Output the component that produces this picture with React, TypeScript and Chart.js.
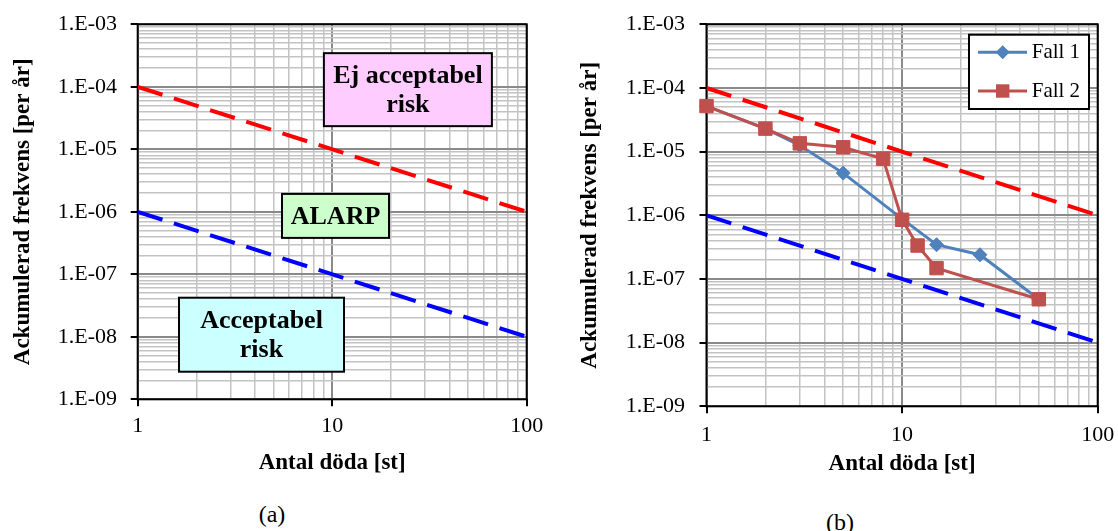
import React, { useEffect, useRef } from "react";
import { Chart, registerables } from "chart.js";

Chart.register(...registerables);

const SERIF = "'Liberation Serif', 'Times New Roman', Times, serif";

// ---- axis ticks ----
const xMajorValues = [1, 10, 100];
const xTickLabels = ["1", "10", "100"];
const yMajorValues = [1e-9, 1e-8, 1e-7, 1e-6, 1e-5, 1e-4, 1e-3];
const yTickLabels = ["1.E-09", "1.E-08", "1.E-07", "1.E-06", "1.E-05", "1.E-04", "1.E-03"];

const xAxisTitle = "Antal döda [st]";
const yAxisTitle = "Ackumulerad frekvens [per år]";
const captionA = "(a)";
const captionB = "(b)";

// ---- criteria lines ----
const limitN = [1, 100];
const upperLimitF = [1e-4, 1e-6];
const lowerLimitF = [1e-6, 1e-8];

// ---- series (chart b) ----
const fall1Label = "Fall 1";
const fall1N = [1, 2, 3, 5, 10, 15, 25, 50];
const fall1F = [5.2e-5, 2.3e-5, 1.25e-5, 4.6e-6, 8.8e-7, 3.45e-7, 2.4e-7, 4.8e-8];
const fall2Label = "Fall 2";
const fall2N = [1, 2, 3, 5, 8, 10, 12, 15, 50];
const fall2F = [5.2e-5, 2.3e-5, 1.35e-5, 1.17e-5, 7.7e-6, 8.5e-7, 3.35e-7, 1.48e-7, 4.8e-8];

// ---- region labels (chart a) ----
const regionTexts = [["Ej acceptabel", "risk"], ["ALARP"], ["Acceptabel", "risk"]];
const regionFills = ["#FFCCFF", "#CCFFCC", "#CCFFFF"];
// anchors (data coords of box centre) and box sizes
const regionAnchors = [
  { n: 24.5, f: 9.0e-5, w: 168, h: 73 },
  { n: 10.4, f: 8.6e-7, w: 107, h: 44 },
  { n: 4.33, f: 1.08e-8, w: 165, h: 74 },
];

const MAJOR_GRID = "#8a8a8a";
const MINOR_GRID = "#c3c3c3";

function logTicks(majors: number[]) {
  const out: { value: number; major: boolean }[] = [];
  for (let i = 0; i < majors.length - 1; i++) {
    for (let m = 1; m <= 9; m++) out.push({ value: majors[i] * m, major: m === 1 });
  }
  out.push({ value: majors[majors.length - 1], major: true });
  return out;
}

function labelFor(v: number, majors: number[], labels: string[]) {
  const i = majors.findIndex((m) => Math.abs(Math.log10(v / m)) < 1e-6);
  return i >= 0 ? labels[i] : "";
}

const pts = (xs: number[], ys: number[]) => xs.map((x, i) => ({ x, y: ys[i] }));

type Geo = {
  padTop: number;
  padRight: number;
  yWidth: number;
  xHeight: number;
  yTickPad: number;
  xTickPad: number;
  yTitlePad: number;
  xTitlePad: number;
};

function makeScales(g: Geo) {
  const grid = {
    color: (c: any) => (c.tick && c.tick.major ? MAJOR_GRID : MINOR_GRID),
    lineWidth: (c: any) => (c.tick && c.tick.major ? 2 : 1.5),
    tickColor: (c: any) => (c.tick && c.tick.major ? "#000" : "rgba(0,0,0,0)"),
    tickWidth: 2,
    tickLength: 7,
    drawTicks: true,
    drawOnChartArea: true,
  };
  return {
    x: {
      type: "logarithmic",
      position: "bottom",
      min: 1,
      max: 100,
      afterBuildTicks: (s: any) => {
        s.ticks = logTicks(xMajorValues);
      },
      afterFit: (s: any) => {
        s.height = g.xHeight;
        s.paddingLeft = 0;
        s.paddingRight = 0;
      },
      ticks: {
        autoSkip: false,
        maxRotation: 0,
        minRotation: 0,
        padding: g.xTickPad,
        color: "#000",
        font: { family: SERIF, size: 22 },
        callback: (v: any) => labelFor(Number(v), xMajorValues, xTickLabels),
      },
      grid,
      border: { display: false },
      title: {
        display: true,
        text: xAxisTitle,
        color: "#000",
        font: { family: SERIF, size: 23, weight: "bold" },
        padding: { top: 0, bottom: g.xTitlePad },
      },
    },
    y: {
      type: "logarithmic",
      position: "left",
      min: 1e-9,
      max: 1e-3,
      afterBuildTicks: (s: any) => {
        s.ticks = logTicks(yMajorValues);
      },
      afterFit: (s: any) => {
        s.width = g.yWidth;
        s.paddingTop = 0;
        s.paddingBottom = 0;
      },
      ticks: {
        autoSkip: false,
        padding: g.yTickPad,
        color: "#000",
        font: { family: SERIF, size: 22 },
        callback: (v: any) => labelFor(Number(v), yMajorValues, yTickLabels),
      },
      grid,
      border: { display: false },
      title: {
        display: true,
        text: yAxisTitle,
        color: "#000",
        font: { family: SERIF, size: 23, weight: "bold" },
        padding: { top: g.yTitlePad, bottom: 0 },
      },
    },
  };
}

const framePlugin = {
  id: "frame",
  beforeDatasetsDraw(chart: any) {
    const { ctx, chartArea: a } = chart;
    ctx.save();
    ctx.strokeStyle = "#000";
    ctx.lineWidth = 2;
    ctx.strokeRect(a.left, a.top, a.right - a.left, a.bottom - a.top);
    ctx.restore();
  },
};

const regionPlugin = {
  id: "regions",
  afterDatasetsDraw(chart: any) {
    const { ctx, scales } = chart;
    ctx.save();
    regionTexts.forEach((lines, i) => {
      const a = regionAnchors[i];
      const cx = scales.x.getPixelForValue(a.n);
      const cy = scales.y.getPixelForValue(a.f);
      const x0 = cx - a.w / 2;
      const y0 = cy - a.h / 2;
      ctx.fillStyle = regionFills[i];
      ctx.fillRect(x0, y0, a.w, a.h);
      ctx.strokeStyle = "#000";
      ctx.lineWidth = 2;
      ctx.strokeRect(x0, y0, a.w, a.h);
      ctx.fillStyle = "#000";
      ctx.font = `bold 26px ${SERIF}`;
      ctx.textAlign = "center";
      ctx.textBaseline = "middle";
      const lh = 29.3;
      lines.forEach((t, j) => {
        ctx.fillText(t, cx, cy + 1 + (j - (lines.length - 1) / 2) * lh);
      });
    });
    ctx.restore();
  },
};

const boxLegendPlugin = {
  id: "boxLegend",
  afterDatasetsDraw(chart: any) {
    const { ctx, chartArea: a } = chart;
    const items = chart.data.datasets.filter((d: any) => d.label);
    const w = 120;
    const h = 74.3;
    const rowH = 38.7;
    const x0 = a.right - 8.7 - w;
    const y0 = a.top + 10.4;
    ctx.save();
    ctx.fillStyle = "#fff";
    ctx.fillRect(x0, y0, w, h);
    ctx.strokeStyle = "#000";
    ctx.lineWidth = 2;
    ctx.strokeRect(x0, y0, w, h);
    items.forEach((d: any, i: number) => {
      const cy = y0 + 17.6 + i * rowH;
      ctx.strokeStyle = d.borderColor;
      ctx.lineWidth = d.borderWidth;
      ctx.beginPath();
      ctx.moveTo(x0 + 9, cy);
      ctx.lineTo(x0 + 58, cy);
      ctx.stroke();
      const mx = x0 + 33.7;
      const r = d.pointRadius;
      ctx.fillStyle = d.pointBackgroundColor;
      ctx.beginPath();
      if (d.pointStyle === "rectRot") {
        ctx.moveTo(mx - r, cy);
        ctx.lineTo(mx, cy - r);
        ctx.lineTo(mx + r, cy);
        ctx.lineTo(mx, cy + r);
      } else {
        const s = r * Math.SQRT1_2;
        ctx.rect(mx - s, cy - s, 2 * s, 2 * s);
      }
      ctx.closePath();
      ctx.fill();
      ctx.fillStyle = "#000";
      ctx.font = `21px ${SERIF}`;
      ctx.textAlign = "left";
      ctx.textBaseline = "middle";
      ctx.fillText(d.label, x0 + 62.7, cy);
    });
    ctx.restore();
  },
};

function limitDatasets() {
  return [
    {
      data: pts(limitN, upperLimitF),
      showLine: true,
      borderColor: "#FF0000",
      borderWidth: 4,
      borderDash: [26, 12],
      pointRadius: 0,
      order: 3,
    },
    {
      data: pts(limitN, lowerLimitF),
      showLine: true,
      borderColor: "#0000FF",
      borderWidth: 4,
      borderDash: [26, 12],
      pointRadius: 0,
      order: 4,
    },
  ];
}

function configA(): any {
  const geo: Geo = {
    padTop: 24.3,
    padRight: 560 - 526.7,
    yWidth: 137.7,
    xHeight: 490 - 399.3,
    yTickPad: 13.7,
    xTickPad: 7.2,
    yTitlePad: 9,
    xTitlePad: 13.4,
  };
  return {
    type: "scatter",
    data: { datasets: limitDatasets() },
    options: {
      responsive: false,
      animation: false,
      devicePixelRatio: 1,
      layout: { padding: { top: geo.padTop, right: geo.padRight, left: 0, bottom: 0 } },
      scales: makeScales(geo),
      plugins: { legend: { display: false }, tooltip: { enabled: false } },
    },
    plugins: [framePlugin, regionPlugin],
  };
}

function configB(): any {
  const geo: Geo = {
    padTop: 24.3,
    padRight: 558 - 537.7,
    yWidth: 146.5,
    xHeight: 497 - 406.3,
    yTickPad: 14.5,
    xTickPad: 8.5,
    yTitlePad: 16,
    xTitlePad: 19.4,
  };
  const fallLine = (label: string, xs: number[], ys: number[], color: string, style: string, r: number, order: number) => ({
    label,
    data: pts(xs, ys),
    showLine: true,
    borderColor: color,
    borderWidth: 3,
    pointStyle: style,
    pointRadius: r,
    pointBackgroundColor: color,
    pointBorderColor: color,
    pointBorderWidth: 1,
    clip: false,
    order,
  });
  return {
    type: "scatter",
    data: {
      datasets: [
        ...limitDatasets(),
        fallLine(fall1Label, fall1N, fall1F, "#4F81BD", "rectRot", 7, 1),
        fallLine(fall2Label, fall2N, fall2F, "#C0504D", "rect", 9.5, 0),
      ],
    },
    options: {
      responsive: false,
      animation: false,
      devicePixelRatio: 1,
      layout: { padding: { top: geo.padTop, right: geo.padRight, left: 0, bottom: 0 } },
      scales: makeScales(geo),
      plugins: { legend: { display: false }, tooltip: { enabled: false } },
    },
    plugins: [framePlugin, boxLegendPlugin],
  };
}

const captionStyle = (cx: number, cy: number): React.CSSProperties => ({
  position: "absolute",
  left: cx - 50,
  top: cy - 12,
  width: 100,
  height: 24,
  lineHeight: "24px",
  textAlign: "center",
  fontFamily: SERIF,
  fontSize: 24,
  color: "#000",
});

export default function App() {
  const aRef = useRef<HTMLCanvasElement>(null);
  const bRef = useRef<HTMLCanvasElement>(null);
  useEffect(() => {
    const a = new Chart(aRef.current as HTMLCanvasElement, configA());
    const b = new Chart(bRef.current as HTMLCanvasElement, configB());
    return () => {
      a.destroy();
      b.destroy();
    };
  }, []);
  return (
    <div style={{ position: "fixed", left: 0, top: 0, width: 1118, height: 531, background: "#fff", overflow: "hidden" }}>
      <canvas ref={aRef} width={560} height={490} style={{ position: "absolute", left: 0, top: 0, width: 560, height: 490 }} />
      <canvas ref={bRef} width={558} height={497} style={{ position: "absolute", left: 560, top: 0, width: 558, height: 497 }} />
      <div style={captionStyle(272, 514)}>{captionA}</div>
      <div style={captionStyle(840, 522)}>{captionB}</div>
    </div>
  );
}
